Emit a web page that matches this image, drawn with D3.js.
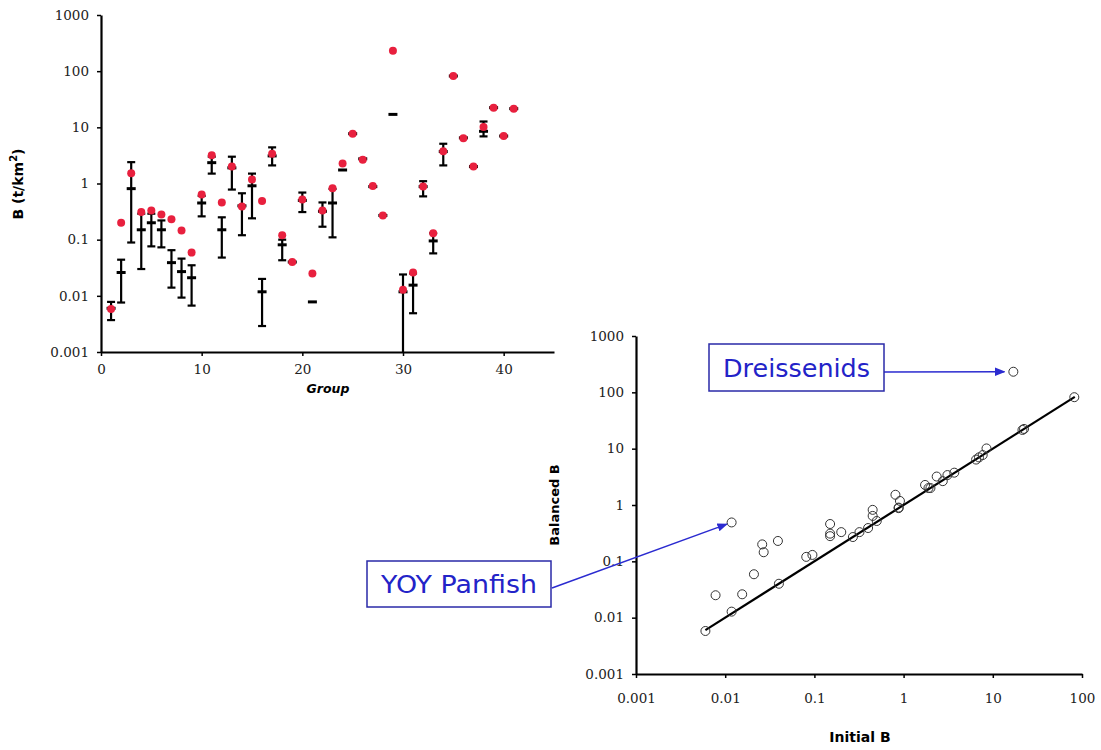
<!DOCTYPE html>
<html><head><meta charset="utf-8">
<script src="https://cdn.jsdelivr.net/npm/d3@7"></script>
<style>body{margin:0;background:#fff} svg{display:block}</style>
</head><body><svg id="c" width="1101" height="750"></svg>
<script>
// ---- data (group 1..41) ----
const groups = d3.range(1, 42);
const initialB  = [0.006,0.026,0.81,0.15,0.2,0.15,0.039,0.027,0.021,0.45,2.35,0.15,1.9,0.4,0.91,0.0118,3.1,0.081,0.04,0.5,0.0078,0.32,0.45,1.74,7.7,2.75,0.88,0.27,17,0.0118,0.0155,0.88,0.095,3.7,82,6.5,2.0,8.5,22.4,7.0,21.5];
const balancedB = [0.0058,0.2,1.52,0.31,0.33,0.28,0.23,0.145,0.059,0.64,3.2,0.46,2.0,0.39,1.18,0.49,3.4,0.12,0.04,0.52,0.025,0.33,0.82,2.27,7.7,2.65,0.9,0.27,232,0.0128,0.026,0.88,0.13,3.75,82,6.4,2.0,10.1,22.4,7.0,21.5];
const lowB  = [0.0037,0.0076,0.089,0.03,0.076,0.073,0.014,0.0093,0.0067,0.26,1.5,0.048,0.78,0.12,0.24,0.0029,2.1,0.043,null,0.31,null,0.17,0.11,null,null,null,null,null,null,0.0005,0.0049,0.59,0.057,2.1,null,null,null,6.9,null,null,null];
const highB = [0.0078,0.044,2.4,0.29,0.29,0.22,0.065,0.046,0.035,0.6,3.0,0.25,3.0,0.67,1.5,0.02,4.4,0.1,null,0.69,null,0.46,0.8,null,null,null,null,null,null,0.024,0.025,1.1,0.13,5.1,null,null,null,12.7,null,null,null];
const yTicks = [0.001,0.01,0.1,1,10,100,1000];
const groupTicks = [0,10,20,30,40];
const initTicks = [0.001,0.01,0.1,1,10,100];
const fitLine = [0.006, 83];
const annotations = [
  {label:"Dreissenids", group:29, box:[709,344,884,391], from:[884,372], tipGap:9},
  {label:"YOY Panfish", group:16, box:[367,561,551,607], from:[552,588], tipGap:5}
];

const svg = d3.select("#c");
const tickFont = "'DejaVu Serif', serif";
const titleFont = "'DejaVu Sans', sans-serif";
const fmt = d3.format("~g");

function styleAxis(g){
  g.select(".domain").attr("stroke","#000").attr("stroke-width",2.2);
  g.selectAll(".tick line").attr("stroke","#000").attr("stroke-width",1.5);
  g.selectAll(".tick text").attr("font-family",tickFont).attr("font-size",13.5).attr("fill","#222");
}

// ---- top-left chart ----
const x = d3.scaleLinear([0,45],[101,554]);
const y = d3.scaleLog([0.001,1000],[352,15]).clamp(true);

const gA = svg.append("g");
gA.append("g").attr("transform","translate(0,352)")
  .call(d3.axisBottom(x).tickValues(groupTicks).tickSize(4).tickSizeOuter(0).tickPadding(8))
  .call(styleAxis);
gA.append("g").attr("transform","translate(101,0)")
  .call(d3.axisLeft(y).tickValues(yTicks).tickFormat(fmt).tickSize(4).tickSizeOuter(0).tickPadding(8))
  .call(styleAxis);

const rows = groups.map((g,i)=>({g, init:initialB[i], bal:balancedB[i], lo:lowB[i], hi:highB[i]}));

// error bars
const eb = gA.append("g").attr("stroke","#000");
rows.filter(d=>d.lo!=null).forEach(d=>{
  const cx = x(d.g);
  eb.append("line").attr("x1",cx).attr("x2",cx).attr("y1",y(d.lo)).attr("y2",y(d.hi)).attr("stroke-width",2.2);
  eb.append("line").attr("x1",cx-4).attr("x2",cx+4).attr("y1",y(d.hi)).attr("y2",y(d.hi)).attr("stroke-width",2.2);
  if (d.lo > 0.001) eb.append("line").attr("x1",cx-4).attr("x2",cx+4).attr("y1",y(d.lo)).attr("y2",y(d.lo)).attr("stroke-width",2.2);
});
// center dashes
eb.selectAll(".mid").data(rows).join("line")
  .attr("x1",d=>x(d.g)-4.5).attr("x2",d=>x(d.g)+4.5)
  .attr("y1",d=>y(d.init)).attr("y2",d=>y(d.init)).attr("stroke-width",3);
// balanced dots
gA.append("g").selectAll("circle").data(rows).join("circle")
  .attr("cx",d=>x(d.g)).attr("cy",d=>y(d.bal)).attr("r",4).attr("fill","#e8203e");

gA.append("text").attr("x",328).attr("y",393).attr("text-anchor","middle")
  .attr("font-family",titleFont).attr("font-weight","bold").attr("font-style","italic").attr("font-size",12.5).text("Group");
const yl = gA.append("text").attr("transform","translate(23,184) rotate(-90)").attr("text-anchor","middle")
  .attr("font-family",titleFont).attr("font-weight","bold").attr("font-size",14);
yl.append("tspan").text("B (t/km");
yl.append("tspan").attr("dy",-6).attr("font-size",10).text("2");
yl.append("tspan").attr("dy",6).text(")");

// ---- bottom-right scatter ----
const sx = d3.scaleLog([0.001,100],[636,1082]);
const sy = d3.scaleLog([0.001,1000],[674,336]);
const gB = svg.append("g");
gB.append("g").attr("transform","translate(0,674)")
  .call(d3.axisBottom(sx).tickValues(initTicks).tickFormat(fmt).tickSize(4).tickSizeOuter(0).tickPadding(15))
  .call(styleAxis);
gB.append("g").attr("transform","translate(636,0)")
  .call(d3.axisLeft(sy).tickValues(yTicks).tickFormat(fmt).tickSize(4).tickSizeOuter(0).tickPadding(8))
  .call(styleAxis);

gB.append("line").attr("x1",sx(fitLine[0])).attr("y1",sy(fitLine[0])).attr("x2",sx(fitLine[1])).attr("y2",sy(fitLine[1]))
  .attr("stroke","#000").attr("stroke-width",2.2);
gB.append("g").selectAll("circle").data(rows).join("circle")
  .attr("cx",d=>sx(d.init)).attr("cy",d=>sy(d.bal)).attr("r",4.5)
  .attr("fill","none").attr("stroke","#333").attr("stroke-width",1);

gB.append("text").attr("x",860).attr("y",742).attr("text-anchor","middle")
  .attr("font-family",titleFont).attr("font-weight","bold").attr("font-size",14).text("Initial B");
gB.append("text").attr("transform","translate(559,505) rotate(-90)").attr("text-anchor","middle")
  .attr("font-family",titleFont).attr("font-weight","bold").attr("font-size",13).text("Balanced B");

// ---- annotations ----
const defs = svg.append("defs");
defs.append("marker").attr("id","ah").attr("viewBox","0 0 10 10").attr("refX",9).attr("refY",5)
  .attr("markerWidth",7).attr("markerHeight",7).attr("orient","auto")
  .append("path").attr("d","M0,1 L10,5 L0,9 Z").attr("fill","#2b2bd0");
annotations.forEach(a=>{
  const r = rows[a.group-1];
  const px = sx(r.init), py = sy(r.bal);
  const dx = px - a.from[0], dy = py - a.from[1], L = Math.hypot(dx,dy);
  const tx = px - dx/L*a.tipGap, ty = py - dy/L*a.tipGap;
  svg.append("line").attr("x1",a.from[0]).attr("y1",a.from[1]).attr("x2",tx).attr("y2",ty)
    .attr("stroke","#2b2bd0").attr("stroke-width",1.5).attr("marker-end","url(#ah)");
  const [x0,y0,x1,y1] = a.box;
  svg.append("rect").attr("x",x0).attr("y",y0).attr("width",x1-x0).attr("height",y1-y0)
    .attr("fill","#fff").attr("stroke","#2a2aa8").attr("stroke-width",1.5);
  svg.append("text").attr("x",(x0+x1)/2).attr("y",(y0+y1)/2+9).attr("text-anchor","middle")
    .attr("font-family","'Comic Sans MS','DejaVu Sans',sans-serif").attr("font-size",25)
    .attr("fill","#2323c8").attr("textLength",x1-x0-28).attr("lengthAdjust","spacingAndGlyphs").text(a.label);
});
</script></body></html>
